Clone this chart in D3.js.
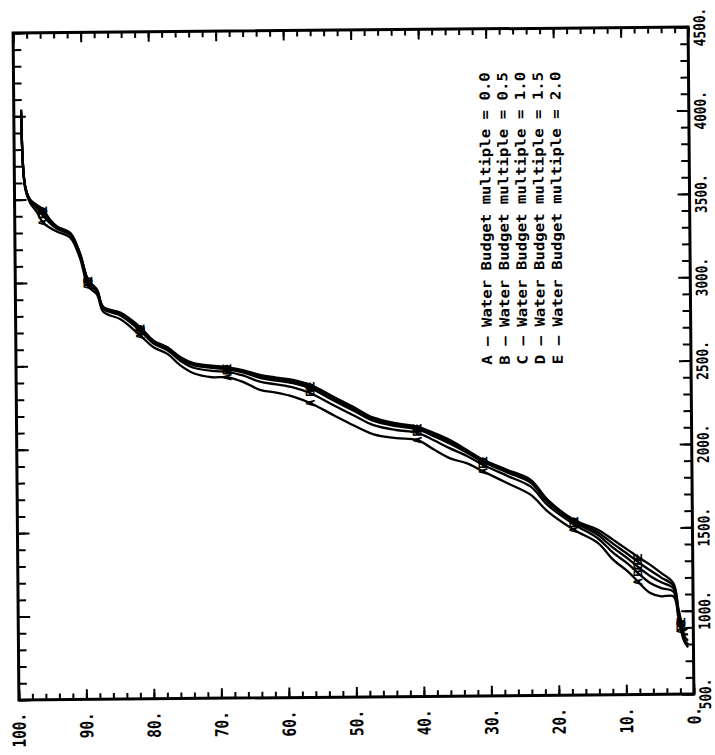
<!DOCTYPE html>
<html>
<head>
<meta charset="utf-8">
<script src="https://cdn.jsdelivr.net/npm/d3@7"></script>
<style>
  html, body { margin: 0; padding: 0; background: #fff; }
  svg { display: block; }
</style>
</head>
<body>
<svg id="chart" width="715" height="755"></svg>
<script>
// Percent of time exceeded (shared by all curves)
const percentExceeded = [98.9, 98.4, 97.7, 96.8, 95.8, 94.8, 93.7, 91.8, 90.4, 89.2, 87.9, 87.0, 84.4, 81.5, 79.6, 77.5, 75.6, 73.7, 71.0, 68.7, 66.4, 63.9, 61.5, 59.0, 56.4, 53.0, 50.1, 47.1, 43.8, 40.6, 38.2, 35.8, 33.3, 30.9, 27.4, 23.9, 21.4, 17.5, 14.0, 11.8, 9.6, 8.1, 6.4, 4.7, 2.9, 2.2, 1.8, 1.4, 0.8];

// Curve values, one array per water budget multiple
const seriesA = [4000, 3563, 3480, 3430, 3360, 3330, 3306, 3269, 3148, 2976, 2926, 2823, 2776, 2677, 2608, 2566, 2496, 2450, 2425, 2424, 2396, 2347, 2330, 2305, 2264, 2191, 2130, 2074, 2050, 2037, 1980, 1926, 1895, 1846, 1775, 1703, 1602, 1490, 1410, 1310, 1238, 1175, 1110, 1088, 1087, 957, 879, 820, 780];
const seriesB = [4010, 3571, 3491, 3452, 3404, 3358, 3322, 3286, 3164, 2998, 2942, 2840, 2798, 2705, 2630, 2588, 2524, 2483, 2463, 2457, 2434, 2396, 2379, 2360, 2324, 2251, 2190, 2129, 2099, 2081, 2035, 1986, 1939, 1884, 1819, 1752, 1640, 1523, 1438, 1352, 1284, 1228, 1170, 1137, 1115, 978, 900, 830, 800];
const seriesC = [4020, 3575, 3496, 3462, 3424, 3370, 3330, 3293, 3172, 3008, 2950, 2847, 2808, 2717, 2640, 2598, 2536, 2498, 2481, 2472, 2452, 2419, 2402, 2385, 2352, 2279, 2218, 2154, 2122, 2101, 2060, 2014, 1959, 1902, 1839, 1775, 1658, 1538, 1458, 1382, 1316, 1265, 1212, 1172, 1135, 993, 915, 850, 820];
const seriesD = [4030, 3577, 3498, 3466, 3432, 3375, 3333, 3296, 3175, 3012, 2953, 2850, 2812, 2722, 2644, 2602, 2541, 2504, 2488, 2478, 2459, 2428, 2411, 2395, 2363, 2290, 2229, 2164, 2131, 2109, 2070, 2025, 1967, 1909, 1847, 1784, 1665, 1544, 1474, 1406, 1342, 1295, 1246, 1200, 1151, 1005, 927, 880, 900];
const seriesE = [4040, 3578, 3500, 3470, 3440, 3380, 3336, 3299, 3178, 3016, 2956, 2853, 2816, 2727, 2648, 2606, 2546, 2510, 2495, 2484, 2466, 2437, 2420, 2405, 2374, 2301, 2240, 2174, 2140, 2117, 2080, 2036, 1975, 1916, 1855, 1793, 1672, 1550, 1490, 1430, 1368, 1325, 1280, 1228, 1167, 1017, 939, 860, 860];

const seriesLetters = ["A", "B", "C", "D", "E"];
const budgetMultiples = ["0.0", "0.5", "1.0", "1.5", "2.0"];

// Axis tick labels
const valueTicks = [500, 1000, 1500, 2000, 2500, 3000, 3500, 4000, 4500];
const percentTicks = [100, 90, 80, 70, 60, 50, 40, 30, 20, 10, 0];

// Points along each curve where its letter is written
const letterAt = [4, 9, 13, 19, 24, 29, 33, 37, 41, 46];

const allSeries = [seriesA, seriesB, seriesC, seriesD, seriesE];

const frame = { left: 16, right: 691, top: 30, bottom: 697 };
const svg = d3.select("#chart");
const g = svg.append("g").attr("transform", "rotate(-0.5,353,363)");

const xP = d3.scaleLinear().domain([100, 0]).range([frame.left, frame.right]);
const yV = d3.scaleLinear().domain([500, 4500]).range([frame.bottom, frame.top]);

const minorPct = d3.range(0, 101, 2);
const minorVal = d3.range(500, 4501, 100);

function styleAxis(sel) {
  sel.select(".domain").remove();
  sel.selectAll(".tick line").attr("stroke", "#000").attr("stroke-width", 2);
  sel.selectAll(".tick text").remove();
}

// bottom and top (percent) ticks, pointing inward
[[d3.axisTop, frame.bottom], [d3.axisBottom, frame.top]].forEach(([fn, y]) => {
  g.append("g").attr("transform", `translate(0,${y})`)
    .call(fn(xP).tickValues(minorPct).tickSize(6)).call(styleAxis);
  g.append("g").attr("transform", `translate(0,${y})`)
    .call(fn(xP).tickValues(percentTicks).tickSize(10)).call(styleAxis);
});
// right and left (value) ticks, pointing inward
[[d3.axisLeft, frame.right], [d3.axisRight, frame.left]].forEach(([fn, x]) => {
  g.append("g").attr("transform", `translate(${x},0)`)
    .call(fn(yV).tickValues(minorVal).tickSize(8)).call(styleAxis);
  g.append("g").attr("transform", `translate(${x},0)`)
    .call(fn(yV).tickValues(valueTicks).tickSize(12)).call(styleAxis);
});

// frame
g.append("rect")
  .attr("x", frame.left).attr("y", frame.top)
  .attr("width", frame.right - frame.left).attr("height", frame.bottom - frame.top)
  .attr("fill", "none").attr("stroke", "#000").attr("stroke-width", 3);

const labelFont = "'DejaVu Sans Mono', monospace";

// percent labels below the frame
g.append("g").selectAll("text").data(percentTicks).join("text")
  .attr("transform", d => `translate(${xP(d) + 6.5},${frame.bottom + 13}) rotate(-90) scale(0.8,1)`)
  .attr("text-anchor", "end")
  .attr("font-family", labelFont).attr("font-weight", "bold").attr("font-size", 18)
  .attr("fill", "#000")
  .text(d => d + ".");

// value labels right of the frame
g.append("g").selectAll("text").data(valueTicks).join("text")
  .attr("transform", d => `translate(${frame.right + 17},${yV(d)}) rotate(-90) scale(0.8,1)`)
  .attr("text-anchor", "middle")
  .attr("font-family", labelFont).attr("font-weight", "bold").attr("font-size", 16)
  .attr("fill", "#000")
  .text(d => d + ".");

// curves
const line = d3.line()
  .x((d, i) => xP(percentExceeded[i]))
  .y(d => yV(d))
  .curve(d3.curveCatmullRom.alpha(0.5));

g.append("g").selectAll("path").data(allSeries).join("path")
  .attr("d", line)
  .attr("fill", "none").attr("stroke", "#000")
  .attr("stroke-width", 2.3).attr("stroke-linejoin", "round");

// letters written on the curves
allSeries.forEach((s, k) => {
  g.append("g").selectAll("text").data(letterAt).join("text")
    .attr("transform", i => `translate(${xP(percentExceeded[i]) + 4},${yV(s[i])}) rotate(-90)`)
    .attr("text-anchor", "middle")
    .attr("font-family", labelFont).attr("font-weight", "bold").attr("font-size", 12)
    .attr("fill", "#000")
    .text(seriesLetters[k]);
});

// legend
g.append("g").selectAll("text").data(seriesLetters).join("text")
  .attr("transform", (d, i) => `translate(${492 + i * 17.7},366) rotate(-90) scale(1.12,1)`)
  .attr("text-anchor", "start")
  .attr("font-family", labelFont).attr("font-weight", "bold").attr("font-size", 14)
  .attr("fill", "#000")
  .text((d, i) => `${d} \u2014 Water Budget multiple = ${budgetMultiples[i]}`);
</script>
</body>
</html>
